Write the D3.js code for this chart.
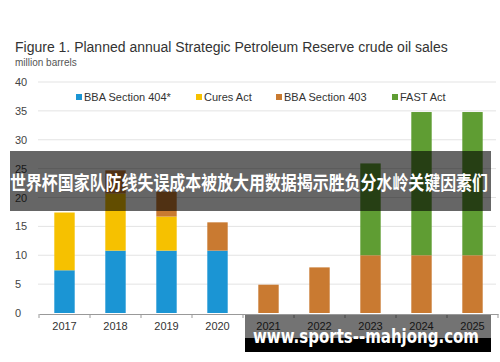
<!DOCTYPE html>
<html>
<head>
<meta charset="utf-8">
<script src="https://cdn.jsdelivr.net/npm/d3@7"></script>
<style>
  body { margin: 0; background: #fff; }
  svg { display: block; font-family: "Liberation Sans", Arial, sans-serif; }
</style>
</head>
<body>
<div id="chart"></div>
<script>
var years = ["2017", "2018", "2019", "2020", "2021", "2022", "2023", "2024", "2025"];
var seriesNames = ["BBA Section 404*", "Cures Act", "BBA Section 403", "FAST Act"];
var bba404 = [7.4, 10.8, 10.8, 10.8, 0, 0, 0, 0, 0];
var cures = [10, 9.9, 5.9, 0, 0, 0, 0, 0, 0];
var bba403 = [0, 4, 4.3, 4.9, 4.9, 7.9, 10, 10, 10];
var fast = [0, 0, 0, 0, 0, 0, 15.9, 24.8, 24.8];
var yTicks = [0, 5, 10, 15, 20, 25, 30, 35, 40];
var colors = ["#1b95d4", "#f6c100", "#c97a31", "#5f9d33"];

var width = 500, height = 362;

var svg = d3.select("#chart").append("svg")
    .attr("width", width)
    .attr("height", height);

var rows = years.map(function (y, i) {
  return { year: y, "BBA Section 404*": bba404[i], "Cures Act": cures[i],
           "BBA Section 403": bba403[i], "FAST Act": fast[i] };
});

var x = d3.scaleBand().domain(years).range([39, 498]).paddingInner(0.6).paddingOuter(0.3);
var y = d3.scaleLinear().domain([0, 40]).range([313, 82]);

// title
svg.append("text")
   .attr("x", 15).attr("y", 52)
   .attr("font-size", 14)
   .attr("fill", "#333")
   .text("Figure 1. Planned annual Strategic Petroleum Reserve crude oil sales");

svg.append("text")
   .attr("x", 15).attr("y", 66)
   .attr("font-size", 10)
   .attr("fill", "#555")
   .text("million barrels");

// grid + y labels
svg.selectAll("line.grid").data(yTicks.slice(1)).enter()
   .append("line")
   .attr("class", "grid")
   .attr("x1", 38).attr("x2", 496)
   .attr("y1", function (d) { return y(d); })
   .attr("y2", function (d) { return y(d); })
   .attr("stroke", "#e3e3e3");

svg.selectAll("text.ylab").data(yTicks).enter()
   .append("text")
   .attr("class", "ylab")
   .attr("x", 15)
   .attr("y", function (d) { return y(d) + 4; })
   .attr("font-size", 11)
   .attr("fill", "#444")
   .text(function (d) { return d; });

// bars
var stack = d3.stack().keys(seriesNames)(rows);

svg.selectAll("g.layer").data(stack).enter()
   .append("g")
   .attr("class", "layer")
   .attr("fill", function (d, i) { return colors[i]; })
   .selectAll("rect").data(function (d) { return d; }).enter()
   .append("rect")
   .attr("x", function (d) { return x(d.data.year); })
   .attr("width", x.bandwidth())
   .attr("y", function (d) { return y(d[1]); })
   .attr("height", function (d) { return y(d[0]) - y(d[1]); });

// x axis
var xAxis = svg.append("g")
   .attr("transform", "translate(0,314)")
   .call(d3.axisBottom(x).tickSize(0).tickPadding(8));
xAxis.select(".domain").attr("stroke", "#999");
xAxis.selectAll("text").attr("font-size", 11).attr("fill", "#333")
     .attr("font-family", "Liberation Sans, Arial, sans-serif");

var bounds = years.map(function (d) { return x(d) - x.step() * x.paddingInner() / 2; });
bounds.push(x.range()[1]);
xAxis.selectAll("line.sep").data(bounds).enter()
   .append("line")
   .attr("class", "sep")
   .attr("x1", function (d) { return d; })
   .attr("x2", function (d) { return d; })
   .attr("y1", 0).attr("y2", 4)
   .attr("stroke", "#999");

// legend
var legendX = [76, 196, 276, 392];
var legend = svg.selectAll("g.legend").data(seriesNames).enter()
   .append("g")
   .attr("class", "legend")
   .attr("transform", function (d, i) { return "translate(" + legendX[i] + ",97)"; });
legend.append("rect")
   .attr("x", 0).attr("y", -3)
   .attr("width", 6).attr("height", 6)
   .attr("fill", function (d, i) { return colors[i]; });
legend.append("text")
   .attr("x", 8).attr("y", 4)
   .attr("font-size", 11)
   .attr("fill", "#333")
   .text(function (d) { return d; });

// overlay banner
svg.append("rect")
   .attr("x", 10).attr("y", 151)
   .attr("width", 481).attr("height", 60)
   .attr("fill", "rgba(0,0,0,0.6)");
svg.append("text")
   .attr("x", 10).attr("y", 190)
   .attr("font-size", 19)
   .attr("font-weight", "bold")
   .attr("font-family", "Noto Sans CJK SC, sans-serif")
   .attr("fill", "#fff")
   .attr("textLength", 478)
   .attr("lengthAdjust", "spacingAndGlyphs")
   .text("世界杯国家队防线失误成本被放大用数据揭示胜负分水岭关键因素们");

// watermark
svg.append("rect")
   .attr("x", 245).attr("y", 315)
   .attr("width", 246).attr("height", 23)
   .attr("fill", "rgba(0,0,0,0.55)");
svg.append("rect")
   .attr("x", 245).attr("y", 338)
   .attr("width", 246).attr("height", 14)
   .attr("fill", "#000");
svg.append("text")
   .attr("x", 253).attr("y", 343)
   .attr("font-size", 20)
   .attr("font-weight", "bold")
   .attr("font-family", "DejaVu Sans, sans-serif")
   .attr("fill", "#fff")
   .attr("textLength", 226)
   .attr("lengthAdjust", "spacingAndGlyphs")
   .text("www.sports--mahjong.com");
</script>
</body>
</html>
